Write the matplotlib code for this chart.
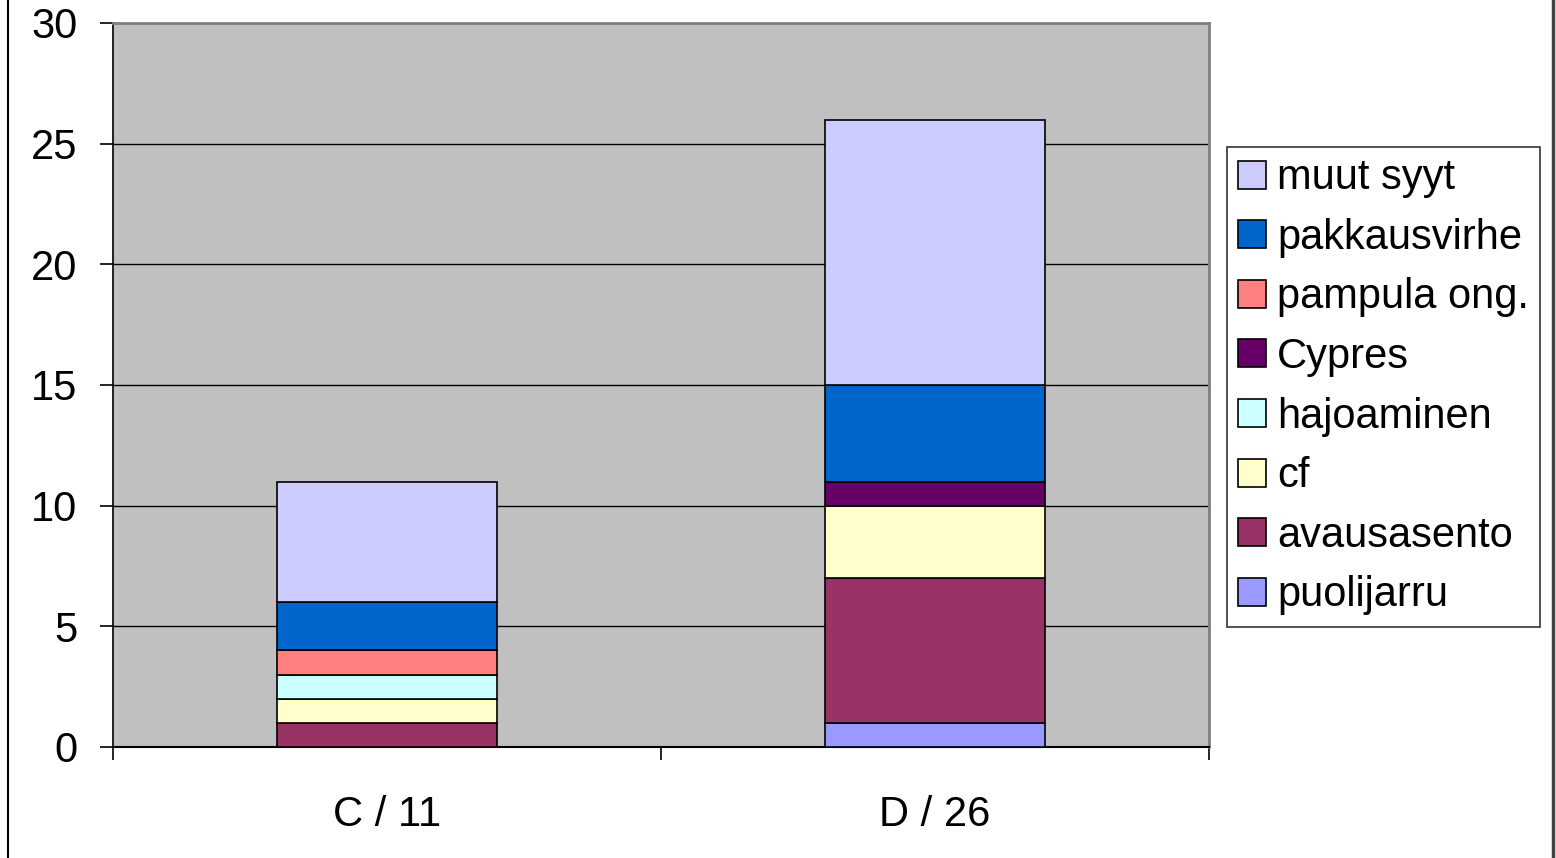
import matplotlib
matplotlib.use("Agg")
import matplotlib.pyplot as plt
from matplotlib.patches import Patch
import numpy as np

plt.rcParams['font.family'] = ['Liberation Sans', 'DejaVu Sans']

categories = ["C / 11", "D / 26"]
series_names = ["puolijarru", "avausasento", "cf", "hajoaminen", "Cypres",
                "pampula ong.", "pakkausvirhe", "muut syyt"]
puolijarru = [0, 1]
avausasento = [1, 6]
cf = [1, 3]
hajoaminen = [1, 0]
cypres = [0, 1]
pampula = [1, 0]
pakkausvirhe = [2, 4]
muut_syyt = [5, 11]
values = [puolijarru, avausasento, cf, hajoaminen, cypres, pampula, pakkausvirhe, muut_syyt]
colors = ["#9999FF", "#993366", "#FFFFCC", "#CCFFFF", "#660066",
          "#FF8080", "#0066CC", "#CCCCFF"]
yticks = [0, 5, 10, 15, 20, 25, 30]

fig = plt.figure(figsize=(15.56, 8.58), dpi=100)
ax = fig.add_axes([113/1556, 1 - 747/858, (1209-113)/1556, (747-23)/858])
ax.set_facecolor("#C0C0C0")

x = np.arange(len(categories))
bottom = np.zeros(len(categories))
for name, vals, col in zip(series_names, values, colors):
    v = np.array(vals, dtype=float)
    mask = v > 0
    ax.bar(x[mask], v[mask], width=0.4, bottom=bottom[mask], color=col,
           edgecolor="black", linewidth=1.2, zorder=3)
    bottom += v

ax.set_xlim(-0.5, 1.5)
ax.set_ylim(0, 30)
ax.set_yticks(yticks)
ax.set_yticklabels([str(t) for t in yticks], fontsize=30)
ax.yaxis.grid(True, color="black", linewidth=1.0, zorder=1)
ax.set_axisbelow(True)

ax.set_xticks([-0.5, 0.5, 1.5])
ax.set_xticklabels([])
ax.set_xticks(x, minor=True)
ax.set_xticklabels(categories, minor=True, fontsize=30)
ax.tick_params(axis='x', which='major', length=9.5, width=1.2, color="black", direction='out')
ax.tick_params(axis='x', which='minor', length=0, pad=34.5)
ax.tick_params(axis='y', length=9.5, width=1.2, direction='out', pad=16)

for s in ["top", "right"]:
    ax.spines[s].set_color("#808080")
    ax.spines[s].set_linewidth(2)
ax.spines["left"].set_color("black")
ax.spines["bottom"].set_color("black")
ax.spines["left"].set_linewidth(1.2)
ax.spines["bottom"].set_linewidth(1.5)

handles = [Patch(facecolor=c, edgecolor="black", linewidth=1.2, label=n)
           for n, c in zip(series_names, colors)][::-1]
leg = fig.legend(handles=handles, loc="upper left",
                 bbox_to_anchor=(1227/1556, 1 - 147/858),
                 fontsize=30, frameon=True, fancybox=False,
                 edgecolor="black", handlelength=0.66, handleheight=0.66,
                 handletextpad=0.27, labelspacing=0.47, borderpad=0.27,
                 borderaxespad=0)
leg.get_frame().set_linewidth(1.2)

# outer frame lines
fig.add_artist(plt.Line2D([8/1556, 8/1556], [0, 1], color="black", linewidth=1.5))
fig.add_artist(plt.Line2D([1553/1556, 1553/1556], [0, 1], color="#404040", linewidth=2.5))

fig.savefig("out.png", dpi=100, facecolor="white")
